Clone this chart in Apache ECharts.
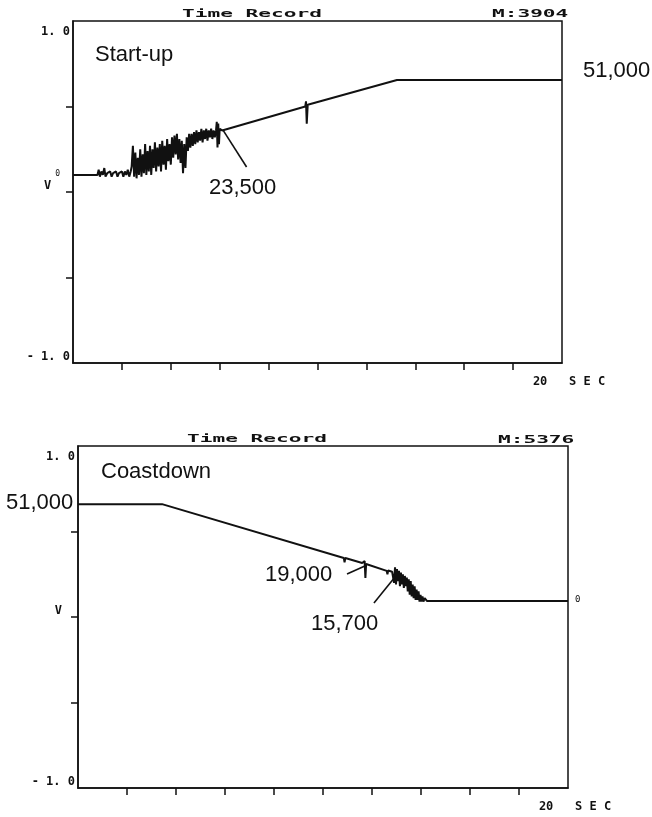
<!DOCTYPE html>
<html>
<head>
<meta charset="utf-8">
<script src="https://cdn.jsdelivr.net/npm/echarts@6/dist/echarts.min.js"></script>
<style>
  html, body { margin: 0; background: #fff; }
  #chart { width: 652px; height: 817px; }
</style>
</head>
<body>
<div id="chart"></div>
<script>
// axis ticks (seconds / volts)
const timeTicks = [2, 4, 6, 8, 10, 12, 14, 16, 18];
const timeLabels = [20];
const voltTicks = [-0.5, 0, 0.5];
const voltLabels = [-1, 0, 1];

// start-up time record: [sec, V]
const startupTrace = [
  [0, 0.10], [1.00, 0.10], [1.05, 0.13], [1.10, 0.09], [1.16, 0.12], [1.22, 0.10], [1.28, 0.14],
  [1.33, 0.09], [1.40, 0.11], [1.46, 0.10], [1.52, 0.12], [1.58, 0.09], [1.64, 0.11], [1.70, 0.10],
  [1.76, 0.12], [1.82, 0.09], [1.88, 0.11], [1.94, 0.10], [2.00, 0.12], [2.06, 0.09], [2.12, 0.12],
  [2.18, 0.10], [2.24, 0.13], [2.30, 0.09], [2.36, 0.12],
  [2.40, 0.15], [2.45, 0.27], [2.50, 0.09], [2.55, 0.23], [2.60, 0.08], [2.65, 0.20], [2.70, 0.10],
  [2.75, 0.25], [2.80, 0.09], [2.85, 0.22], [2.90, 0.11], [2.95, 0.28], [3.00, 0.10], [3.05, 0.24],
  [3.10, 0.12], [3.15, 0.27], [3.20, 0.10], [3.25, 0.25], [3.30, 0.14], [3.35, 0.29], [3.40, 0.12],
  [3.45, 0.26], [3.50, 0.15], [3.55, 0.28], [3.60, 0.12], [3.65, 0.30], [3.70, 0.16], [3.75, 0.27],
  [3.80, 0.13], [3.85, 0.31], [3.90, 0.18], [3.95, 0.28], [4.00, 0.16], [4.05, 0.32],
  [4.10, 0.20], [4.15, 0.33], [4.20, 0.22], [4.25, 0.34], [4.30, 0.19], [4.35, 0.31], [4.40, 0.17],
  [4.45, 0.30], [4.50, 0.11], [4.55, 0.28], [4.60, 0.14], [4.65, 0.32], [4.70, 0.24], [4.75, 0.34],
  [4.80, 0.26], [4.85, 0.34], [4.90, 0.27], [4.95, 0.35], [5.00, 0.28], [5.05, 0.36], [5.10, 0.29],
  [5.15, 0.35], [5.20, 0.30], [5.25, 0.37], [5.30, 0.29], [5.35, 0.36], [5.40, 0.31], [5.45, 0.37],
  [5.50, 0.30], [5.55, 0.36], [5.60, 0.32], [5.65, 0.37], [5.70, 0.31], [5.75, 0.36], [5.80, 0.32],
  [5.85, 0.36], [5.88, 0.41], [5.91, 0.26], [5.94, 0.40], [5.97, 0.28], [6.00, 0.37], [6.10, 0.36],
  [9.50, 0.50], [9.53, 0.53], [9.56, 0.40], [9.60, 0.51], [13.25, 0.655], [20, 0.655]
];

// coastdown time record: [sec, V]
const coastdownTrace = [
  [0, 0.66], [3.43, 0.66], [10.85, 0.345], [10.88, 0.32], [10.91, 0.345], [11.60, 0.316],
  [11.70, 0.327], [11.73, 0.228], [11.76, 0.31], [11.84, 0.316], [12.60, 0.27], [12.63, 0.25],
  [12.66, 0.272], [12.82, 0.265],
  [12.86, 0.27], [12.90, 0.20], [12.94, 0.29], [12.98, 0.19], [13.02, 0.28], [13.06, 0.21],
  [13.10, 0.27], [13.14, 0.18], [13.18, 0.26], [13.22, 0.19], [13.26, 0.25], [13.30, 0.17],
  [13.34, 0.24], [13.38, 0.18], [13.42, 0.23], [13.46, 0.15], [13.50, 0.22], [13.54, 0.13],
  [13.58, 0.21], [13.62, 0.12], [13.66, 0.19], [13.70, 0.11], [13.74, 0.18], [13.78, 0.10],
  [13.82, 0.16], [13.86, 0.10], [13.90, 0.15], [13.94, 0.09], [13.98, 0.13], [14.02, 0.09],
  [14.06, 0.12], [14.10, 0.09], [14.15, 0.11], [14.24, 0.094], [20, 0.094]
];

// leader lines for the speed callouts: [sec, V] pairs
const startupLeader = [[6.13, 0.363], [7.10, 0.146]];
const leader19000 = [[10.98, 0.251], [11.71, 0.298]];
const leader15700 = [[12.08, 0.082], [12.94, 0.234]];

const INK = "#111";
const PLOT_FONT = "DejaVu Sans Mono";
const HAND_FONT = "Liberation Sans, Arial, sans-serif";

function xAxisFor(gi) {
  return {
    type: "value", gridIndex: gi, min: 0, max: 20, interval: 2,
    axisLine: { show: true, onZero: false, lineStyle: { color: INK, width: 1.5 } },
    axisTick: { show: true, customValues: timeTicks, length: 7, lineStyle: { color: INK, width: 1.5 } },
    axisLabel: {
      show: true, customValues: timeLabels, margin: 13,
      fontFamily: PLOT_FONT, fontSize: 12, fontWeight: "bold", color: INK,
      formatter: () => "{a|20   S E C}",
      rich: { a: { fontFamily: PLOT_FONT, fontSize: 12, fontWeight: "bold", color: INK, padding: [0, 0, 0, 14] } }
    },
    splitLine: { show: false }
  };
}

function yAxisFor(gi, zeroLabel) {
  return {
    type: "value", gridIndex: gi, min: -1, max: 1, interval: 0.5,
    axisLine: { show: true, onZero: false, lineStyle: { color: INK, width: 1.5 } },
    axisTick: { show: true, customValues: voltTicks, length: 7, lineStyle: { color: INK, width: 1.5 } },
    axisLabel: {
      show: true, customValues: voltLabels, margin: 3,
      formatter: (v) => v === 1 ? "{hi|1. 0}" : v === -1 ? "{lo|- 1. 0}" : zeroLabel,
      rich: {
        hi: { fontFamily: PLOT_FONT, fontSize: 12, fontWeight: "bold", color: INK, padding: [22, 0, 0, 0] },
        lo: { fontFamily: PLOT_FONT, fontSize: 12, fontWeight: "bold", color: INK, padding: [0, 0, 12, 0] },
        v: { fontFamily: PLOT_FONT, fontSize: 12, fontWeight: "bold", color: INK, padding: [0, 4, 12, 0] },
        w: { fontFamily: PLOT_FONT, fontSize: 12, fontWeight: "bold", color: INK, padding: [0, 13, 12, 0] },
        s: { fontFamily: PLOT_FONT, fontSize: 8, color: INK, padding: [0, 10, 36, 0] }
      }
    },
    splitLine: { show: false }
  };
}

function leaderMark(pairs) {
  return {
    silent: true, symbol: ["none", "none"], animation: false,
    label: { show: false },
    lineStyle: { color: INK, width: 1.6, type: "solid" },
    emphasis: { disabled: true },
    data: pairs.map((p) => [{ coord: p[0] }, { coord: p[1] }])
  };
}

function plotterText(text, x, y) {
  return { type: "text", x, y, scaleX: 1.92, silent: true,
    style: { text, fontFamily: PLOT_FONT, fontSize: 11, fontWeight: "bold", fill: INK, verticalAlign: "middle" } };
}
function handText(text, x, y) {
  return { type: "text", x, y, silent: true,
    style: { text, fontFamily: HAND_FONT, fontSize: 22, fill: INK, verticalAlign: "middle" } };
}

const chart = echarts.init(document.getElementById("chart"), null, { renderer: "canvas" });
chart.setOption({
  animation: false,
  backgroundColor: "#fff",
  grid: [
    { left: 73, top: 21, width: 489, height: 342, show: true, borderColor: INK, borderWidth: 1.5, backgroundColor: "transparent" },
    { left: 78, top: 446, width: 490, height: 342, show: true, borderColor: INK, borderWidth: 1.5, backgroundColor: "transparent" }
  ],
  xAxis: [xAxisFor(0), xAxisFor(1)],
  yAxis: [yAxisFor(0, "{v|V}{s|0}"), yAxisFor(1, "{w|V}")],
  series: [
    {
      name: "Start-up", type: "line", xAxisIndex: 0, yAxisIndex: 0,
      data: startupTrace, symbol: "none", showSymbol: false,
      lineStyle: { color: INK, width: 2 }, markLine: leaderMark([startupLeader])
    },
    {
      name: "Coastdown", type: "line", xAxisIndex: 1, yAxisIndex: 1,
      data: coastdownTrace, symbol: "none", showSymbol: false,
      lineStyle: { color: INK, width: 2 }, markLine: leaderMark([leader19000, leader15700])
    }
  ],
  graphic: [
    plotterText("Time Record", 182, 14),
    plotterText("M:3904", 492, 14),
    handText("Start-up", 95, 55),
    handText("51,000", 583, 71),
    handText("23,500", 209, 188),
    plotterText("Time Record", 187, 439),
    plotterText("M:5376", 498, 440),
    handText("Coastdown", 101, 472),
    handText("51,000", 6, 503),
    handText("19,000", 265, 575),
    handText("15,700", 311, 624),
    { type: "text", x: 575, y: 600, silent: true,
      style: { text: "0", fontFamily: PLOT_FONT, fontSize: 9, fill: INK, verticalAlign: "middle" } }
  ]
});
</script>
</body>
</html>
